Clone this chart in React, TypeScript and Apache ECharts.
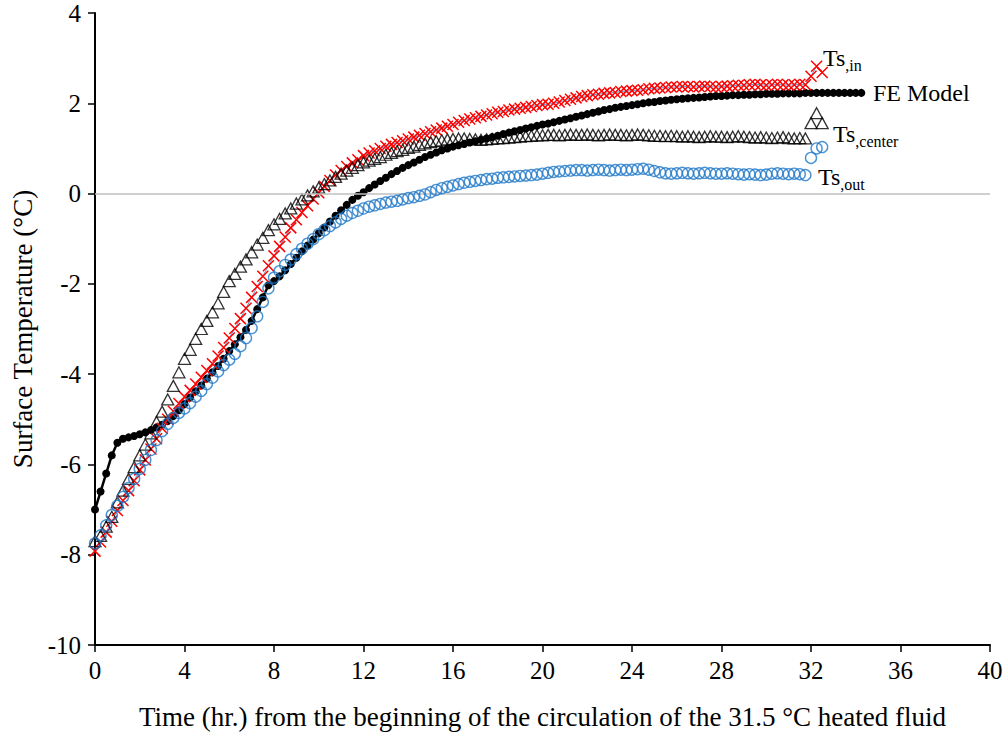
import React, { useEffect, useRef } from "react";
import * as echarts from "echarts";

// sampling interval of every series (hours)
const STEP_HR = 0.25;

const FE_MODEL = [
  -7.0, -6.6, -6.2, -5.8, -5.52, -5.43, -5.4, -5.37,
  -5.33, -5.29, -5.24, -5.18, -5.12, -5.04, -4.93, -4.8,
  -4.66, -4.52, -4.38, -4.25, -4.1, -3.96, -3.82, -3.66,
  -3.49, -3.34, -3.18, -3.02, -2.82, -2.56, -2.3, -2.03,
  -1.94, -1.83, -1.7, -1.56, -1.42, -1.28, -1.15, -1.02,
  -0.88, -0.75, -0.62, -0.49, -0.37, -0.25, -0.14, -0.05,
  0.03, 0.12, 0.2, 0.28, 0.35, 0.43, 0.5, 0.57,
  0.63, 0.69, 0.75, 0.81, 0.86, 0.91, 0.96, 1.0,
  1.04, 1.07, 1.1, 1.13, 1.16, 1.19, 1.22, 1.25,
  1.28, 1.32, 1.35, 1.38, 1.41, 1.44, 1.47, 1.5,
  1.53, 1.55, 1.58, 1.61, 1.64, 1.67, 1.7, 1.73,
  1.76, 1.79, 1.82, 1.85, 1.87, 1.9, 1.92, 1.94,
  1.96, 1.98, 2.0, 2.02, 2.03, 2.05, 2.06, 2.08,
  2.09, 2.1, 2.11, 2.12, 2.13, 2.14, 2.15, 2.16,
  2.16, 2.17, 2.18, 2.18, 2.19, 2.19, 2.2, 2.2,
  2.21, 2.21, 2.21, 2.22, 2.22, 2.22, 2.22, 2.23,
  2.23, 2.23, 2.23, 2.23, 2.23, 2.23, 2.23, 2.23,
  2.23, 2.23,
];

const TS_IN = [
  -7.92, -7.72, -7.5, -7.26, -7.02, -6.8, -6.58, -6.36,
  -6.12, -5.9, -5.66, -5.43, -5.2, -5.0, -4.82, -4.65,
  -4.5, -4.36, -4.22, -4.07, -3.92, -3.77, -3.6, -3.41,
  -3.2, -2.99, -2.77, -2.54, -2.3, -2.06, -1.83, -1.6,
  -1.38, -1.17, -0.96, -0.76, -0.58, -0.42, -0.27, -0.12,
  0.02, 0.16, 0.29, 0.41, 0.51, 0.6, 0.68, 0.75,
  0.84, 0.9, 0.95, 1.0, 1.05, 1.09, 1.13, 1.17,
  1.21, 1.25, 1.29, 1.33, 1.37, 1.41, 1.45, 1.49,
  1.53, 1.58, 1.62, 1.65, 1.68, 1.71, 1.74, 1.77,
  1.8, 1.82, 1.85, 1.87, 1.89, 1.91, 1.93, 1.95,
  1.97, 1.98, 2.0, 2.03, 2.06, 2.09, 2.12, 2.15,
  2.17, 2.19, 2.2, 2.22, 2.23, 2.24, 2.26, 2.27,
  2.28, 2.29, 2.3, 2.32, 2.33, 2.34, 2.35, 2.36,
  2.36, 2.37, 2.37, 2.36, 2.37, 2.38, 2.37, 2.36,
  2.37, 2.38, 2.39, 2.4, 2.4, 2.41, 2.42, 2.41,
  2.4, 2.41, 2.42, 2.41, 2.4, 2.41, 2.42, 2.41,
  2.6, 2.82, 2.68,
];

const TS_CENTER = [
  -7.7, -7.58, -7.38, -7.16, -6.84, -6.58, -6.32, -6.06,
  -5.8, -5.56, -5.31, -5.06, -4.83, -4.56, -4.26, -3.96,
  -3.66, -3.46, -3.22, -3.0, -2.82, -2.63, -2.43, -2.18,
  -1.94, -1.78, -1.62, -1.46, -1.3, -1.13, -0.98, -0.81,
  -0.68, -0.56, -0.44, -0.33, -0.22, -0.13, -0.04, 0.05,
  0.13, 0.21, 0.29, 0.37, 0.44, 0.51, 0.57, 0.63,
  0.69, 0.73, 0.77, 0.81, 0.86, 0.9, 0.94, 0.97,
  1.01, 1.04, 1.08, 1.11, 1.14, 1.16, 1.18, 1.2,
  1.21, 1.22, 1.22, 1.21, 1.2, 1.19, 1.2, 1.21,
  1.22, 1.23, 1.24, 1.25, 1.26, 1.27, 1.28, 1.29,
  1.29, 1.3, 1.3, 1.29, 1.3, 1.31, 1.3, 1.3,
  1.31, 1.3, 1.29, 1.3, 1.31, 1.3, 1.3, 1.29,
  1.3, 1.31, 1.3, 1.29, 1.28, 1.28, 1.27, 1.28,
  1.27, 1.26, 1.27, 1.26, 1.25, 1.26, 1.27, 1.26,
  1.26, 1.25, 1.26, 1.27, 1.26, 1.25, 1.24, 1.25,
  1.24, 1.23, 1.24, 1.25, 1.23, 1.22, 1.23, 1.22,
  1.56, 1.78, 1.56,
];

const TS_OUT = [
  -7.75, -7.57, -7.35, -7.12, -6.92, -6.72, -6.52, -6.32,
  -6.1, -5.9, -5.68, -5.46, -5.26, -5.1, -4.97, -4.86,
  -4.76, -4.64, -4.5, -4.37, -4.22, -4.08, -3.94, -3.8,
  -3.68, -3.55, -3.38, -3.2, -2.98, -2.72, -2.4, -2.1,
  -1.86, -1.72, -1.58, -1.46, -1.34, -1.22, -1.11, -1.01,
  -0.9, -0.81, -0.72, -0.64, -0.56, -0.49, -0.43, -0.38,
  -0.33, -0.29, -0.26, -0.23, -0.2, -0.18, -0.16, -0.13,
  -0.1, -0.08, -0.05, -0.02, 0.03, 0.08, 0.12, 0.15,
  0.18, 0.21, 0.24, 0.26, 0.28, 0.3, 0.32, 0.33,
  0.35, 0.36, 0.37, 0.38, 0.39, 0.4, 0.41, 0.42,
  0.44, 0.46, 0.48, 0.49, 0.5, 0.51, 0.52, 0.52,
  0.51, 0.52, 0.53, 0.52, 0.51, 0.52, 0.53, 0.52,
  0.53, 0.54, 0.55, 0.53, 0.5, 0.47, 0.45, 0.44,
  0.45, 0.46, 0.45, 0.44, 0.45, 0.46, 0.45, 0.44,
  0.44, 0.45, 0.44, 0.43, 0.42, 0.43, 0.42, 0.41,
  0.42, 0.44, 0.45, 0.44, 0.43, 0.44, 0.43, 0.41,
  0.79, 1.0, 1.03,
];

const X_MIN = 0;
const X_MAX = 40;
const X_INTERVAL = 4;
const Y_MIN = -10;
const Y_MAX = 4;
const Y_INTERVAL = 2;

const X_NAME = "Time (hr.) from the beginning of the circulation of the 31.5 °C heated fluid";
const Y_NAME = "Surface Temperature (°C)";

const FONT = '"Liberation Serif", "Times New Roman", serif';

const toPairs = (vals: number[]) => vals.map((v, i) => [i * STEP_HR, v]);

const labelText = (x: number, y: number, main: string, sub: string) => ({
  type: "text",
  x,
  y,
  silent: true,
  style: {
    text: sub ? `{a|${main}}{b|${sub}}` : `{a|${main}}`,
    align: "left",
    verticalAlign: "middle",
    fill: "#000",
    rich: {
      a: { fontFamily: FONT, fontSize: 24, fill: "#000", lineHeight: 30, verticalAlign: "middle" },
      b: { fontFamily: FONT, fontSize: 16, fill: "#000", lineHeight: 30, verticalAlign: "bottom" },
    },
  },
});

export default function App() {
  const ref = useRef<HTMLDivElement>(null);

  useEffect(() => {
    if (!ref.current) return;
    const chart = echarts.init(ref.current, undefined, { renderer: "svg" });
    const tickFont = { color: "#000", fontFamily: FONT, fontSize: 25 };
    const nameFont = { color: "#000", fontFamily: FONT, fontSize: 27 };
    chart.setOption({
      animation: false,
      backgroundColor: "#fff",
      grid: { left: 95, right: 18, top: 13, bottom: 91, containLabel: false },
      xAxis: {
        type: "value",
        min: X_MIN,
        max: X_MAX,
        interval: X_INTERVAL,
        name: X_NAME,
        nameLocation: "middle",
        nameGap: 58,
        nameTextStyle: { ...nameFont },
        axisLine: { show: true, onZero: false, lineStyle: { color: "#000", width: 2 } },
        axisTick: { show: true, length: 7, lineStyle: { color: "#000", width: 1.5 } },
        axisLabel: { ...tickFont, margin: 13 },
        splitLine: { show: false },
      },
      yAxis: {
        type: "value",
        min: Y_MIN,
        max: Y_MAX,
        interval: Y_INTERVAL,
        name: Y_NAME,
        nameLocation: "middle",
        nameGap: 51,
        nameRotate: 90,
        nameTextStyle: { ...nameFont },
        axisLine: { show: true, onZero: false, lineStyle: { color: "#000", width: 2 } },
        axisTick: { show: true, length: 7, lineStyle: { color: "#000", width: 1.5 } },
        axisLabel: { ...tickFont, margin: 14 },
        splitLine: { show: false },
      },
      series: [
        {
          name: "FE Model",
          type: "line",
          data: toPairs(FE_MODEL),
          symbol: "circle",
          symbolSize: 8,
          showAllSymbol: true,
          itemStyle: { color: "#000" },
          lineStyle: { color: "#000", width: 2.5 },
          emphasis: { disabled: true },
          z: 2,
          markLine: {
            silent: true,
            symbol: "none",
            label: { show: false },
            lineStyle: { color: "#bfbfbf", width: 1.5, type: "solid" },
            data: [{ yAxis: 0 }],
          },
        },
        {
          name: "Ts,in",
          type: "line",
          data: toPairs(TS_IN),
          symbol: "path://M0,0L10,10M10,0L0,10",
          symbolSize: 11,
          showAllSymbol: true,
          itemStyle: { color: "rgba(0,0,0,0)", borderColor: "#ff0000", borderWidth: 1.5 },
          lineStyle: { color: "#5b9bd5", width: 1 },
          emphasis: { disabled: true },
          z: 3,
        },
        {
          name: "Ts,center",
          type: "scatter",
          data: toPairs(TS_CENTER),
          symbol: "triangle",
          symbolSize: [12, 11],
          itemStyle: { color: "rgba(0,0,0,0)", borderColor: "#000", borderWidth: 1.3 },
          emphasis: { disabled: true },
          z: 4,
        },
        {
          name: "Ts,out",
          type: "scatter",
          data: toPairs(TS_OUT),
          symbol: "circle",
          symbolSize: 11,
          itemStyle: { color: "rgba(0,0,0,0)", borderColor: "#1f78c8", borderWidth: 1.4 },
          emphasis: { disabled: true },
          z: 5,
        },
      ],
      graphic: [
        labelText(823, 58, "Ts", ",in"),
        labelText(873, 93, "FE Model", ""),
        labelText(833, 134, "Ts", ",center"),
        labelText(818, 177, "Ts", ",out"),
      ],
    });
    return () => chart.dispose();
  }, []);

  return (
    <div
      ref={ref}
      style={{ position: "fixed", left: 0, top: 0, width: 1008, height: 736, background: "#fff" }}
    />
  );
}
